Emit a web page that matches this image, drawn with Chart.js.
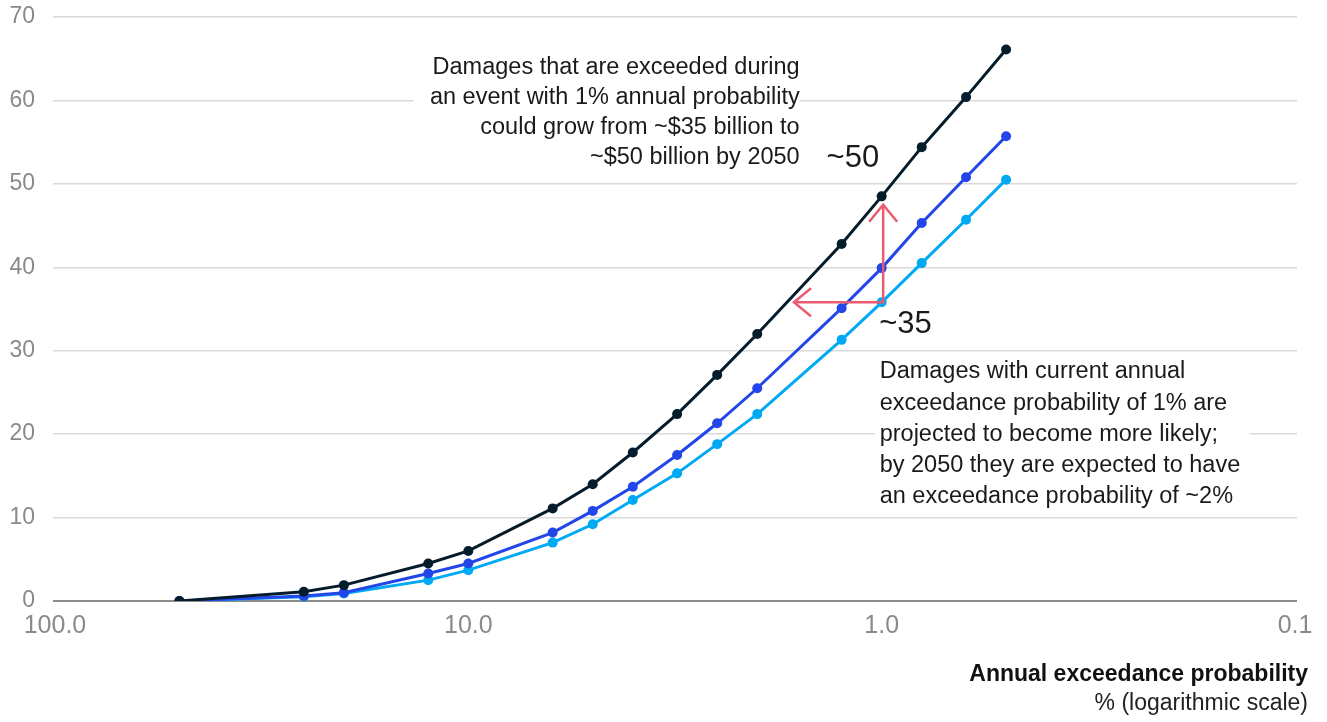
<!DOCTYPE html>
<html>
<head>
<meta charset="utf-8">
<script src="https://cdn.jsdelivr.net/npm/chart.js@4"></script>
<style>
  html, body { margin: 0; padding: 0; background: #fff; }
  .chart-container { position: relative; width: 1327px; height: 722px; }
</style>
</head>
<body>
<div class="chart-container">
  <canvas id="damageChart"></canvas>
</div>
<script>
// annual exceedance probability, %
const probabilities = [50, 25, 20, 12.5, 10, 6.25, 5, 4, 3.125, 2.5, 2, 1.25, 1, 0.8, 0.625, 0.5];
// damages, $ billion
const damages2050 = [0, 1.1, 1.9, 4.5, 6.0, 11.1, 14.0, 17.8, 22.4, 27.1, 32.0, 42.8, 48.5, 54.4, 60.4, 66.1];
const damages2030 = [0, 0.6, 1.0, 3.3, 4.5, 8.2, 10.8, 13.7, 17.5, 21.3, 25.5, 35.1, 39.9, 45.3, 50.8, 55.7];
const damagesToday = [0, 0.5, 0.9, 2.5, 3.7, 7.0, 9.2, 12.1, 15.3, 18.8, 22.4, 31.3, 35.8, 40.5, 45.7, 50.5];
const xTickValues = [100, 10, 1, 0.1];
const yTickValues = [0, 10, 20, 30, 40, 50, 60, 70];

const FONT = "'Liberation Sans', Arial, sans-serif";
const RED = "#ea5b70";

function toPoints(values) {
  return probabilities.map((p, i) => ({ x: p, y: values[i] }));
}

function drawLines(ctx, lines, x, y0, step, align) {
  ctx.textAlign = align;
  lines.forEach((t, i) => ctx.fillText(t, x, y0 + i * step));
}

const notesPlugin = {
  id: "notes",
  beforeDatasetsDraw(chart) {
    const { ctx, scales: { x, y } } = chart;
    const x1 = x.getPixelForValue(1);
    ctx.save();
    // white boxes behind the notes hide the grid lines
    ctx.fillStyle = "#fff";
    ctx.fillRect(x1 - 468, y.getPixelForValue(66.3), 386, 127);
    ctx.fillRect(x1 - 7, y.getPixelForValue(29.5), 375, 157);

    ctx.fillStyle = "#1a1a1a";
    ctx.font = "23.5px " + FONT;
    ctx.textBaseline = "middle";
    drawLines(ctx, [
      "Damages that are exceeded during",
      "an event with 1% annual probability",
      "could grow from ~$35 billion to",
      "~$50 billion by 2050"
    ], x1 - 82, 68, 30, "right");
    drawLines(ctx, [
      "Damages with current annual",
      "exceedance probability of 1% are",
      "projected to become more likely;",
      "by 2050 they are expected to have",
      "an exceedance probability of ~2%"
    ], x1 - 2, 372, 31.2, "left");
    ctx.restore();
  },
  afterDatasetsDraw(chart) {
    const { ctx, scales: { x, y } } = chart;
    const ax = x.getPixelForValue(1) + 1.5;
    const ay = y.getPixelForValue(35.8);
    const topY = y.getPixelForValue(47.5);
    const leftX = x.getPixelForValue(1.63);
    ctx.save();
    ctx.strokeStyle = RED;
    ctx.lineWidth = 2.5;
    ctx.beginPath();
    ctx.moveTo(leftX, ay);
    ctx.lineTo(ax, ay);
    ctx.lineTo(ax, topY);
    ctx.stroke();
    ctx.beginPath();
    ctx.moveTo(ax - 14, topY + 17);
    ctx.lineTo(ax, topY);
    ctx.lineTo(ax + 14, topY + 17);
    ctx.stroke();
    ctx.beginPath();
    ctx.moveTo(leftX + 17, ay - 14);
    ctx.lineTo(leftX, ay);
    ctx.lineTo(leftX + 17, ay + 14);
    ctx.stroke();

    ctx.fillStyle = "#1a1a1a";
    ctx.font = "31px " + FONT;
    ctx.textBaseline = "middle";
    ctx.textAlign = "right";
    ctx.fillText("~50", ax - 4, y.getPixelForValue(53.1));
    ctx.textAlign = "left";
    ctx.fillText("~35", ax - 4, y.getPixelForValue(33.2));
    ctx.restore();
  },
  afterDraw(chart) {
    const { ctx } = chart;
    ctx.save();
    ctx.fillStyle = "#111";
    ctx.textAlign = "right";
    ctx.textBaseline = "middle";
    ctx.font = "bold 23px " + FONT;
    ctx.fillText("Annual exceedance probability", 1308, 675);
    ctx.font = "23px " + FONT;
    ctx.fillStyle = "#222";
    ctx.fillText("% (logarithmic scale)", 1308, 704);
    ctx.restore();
  }
};

const ctx = document.getElementById("damageChart").getContext("2d");
new Chart(ctx, {
  type: "line",
  data: {
    datasets: [
      { label: "2050", data: toPoints(damages2050), borderColor: "#051c2c", backgroundColor: "#051c2c" },
      { label: "2030", data: toPoints(damages2030), borderColor: "#2346e8", backgroundColor: "#2346e8" },
      { label: "Today", data: toPoints(damagesToday), borderColor: "#00a9f4", backgroundColor: "#00a9f4" }
    ].map(d => Object.assign(d, { borderWidth: 3, pointRadius: 5, pointBorderWidth: 0, tension: 0 }))
  },
  options: {
    responsive: true,
    maintainAspectRatio: false,
    animation: false,
    layout: { padding: { top: 17, right: 30, bottom: 81, left: 0 } },
    plugins: {
      legend: { display: false },
      tooltip: { enabled: false }
    },
    scales: {
      x: {
        type: "logarithmic",
        reverse: true,
        // a hair past 0.1 and 100 so the end ticks sit just inside the grid lines
        min: 0.0989,
        max: 101.1,
        afterBuildTicks: (axis) => { axis.ticks = xTickValues.map(v => ({ value: v })); },
        afterFit: (axis) => { axis.height = 40; axis.paddingLeft = 0; axis.paddingRight = 0; },
        grid: { display: false, drawTicks: false },
        border: { display: false },
        ticks: {
          autoSkip: false,
          maxRotation: 0,
          padding: 10,
          color: "#8a8a8a",
          font: { family: FONT, size: 25 },
          callback: (v) => Number(v).toFixed(1)
        }
      },
      y: {
        min: 0,
        max: 70,
        afterBuildTicks: (axis) => { axis.ticks = yTickValues.map(v => ({ value: v })); },
        afterFit: (axis) => { axis.width = 53; axis.paddingTop = 0; axis.paddingBottom = 0; },
        border: { display: false },
        grid: {
          drawTicks: false,
          color: (c) => c.tick && c.tick.value === 0 ? "#8c8c8c" : "#d9d9d9",
          lineWidth: (c) => c.tick && c.tick.value === 0 ? 2 : 1.5
        },
        ticks: {
          padding: 18,
          color: "#8a8a8a",
          font: { family: FONT, size: 23 }
        }
      }
    }
  },
  plugins: [notesPlugin]
});
</script>
</body>
</html>
